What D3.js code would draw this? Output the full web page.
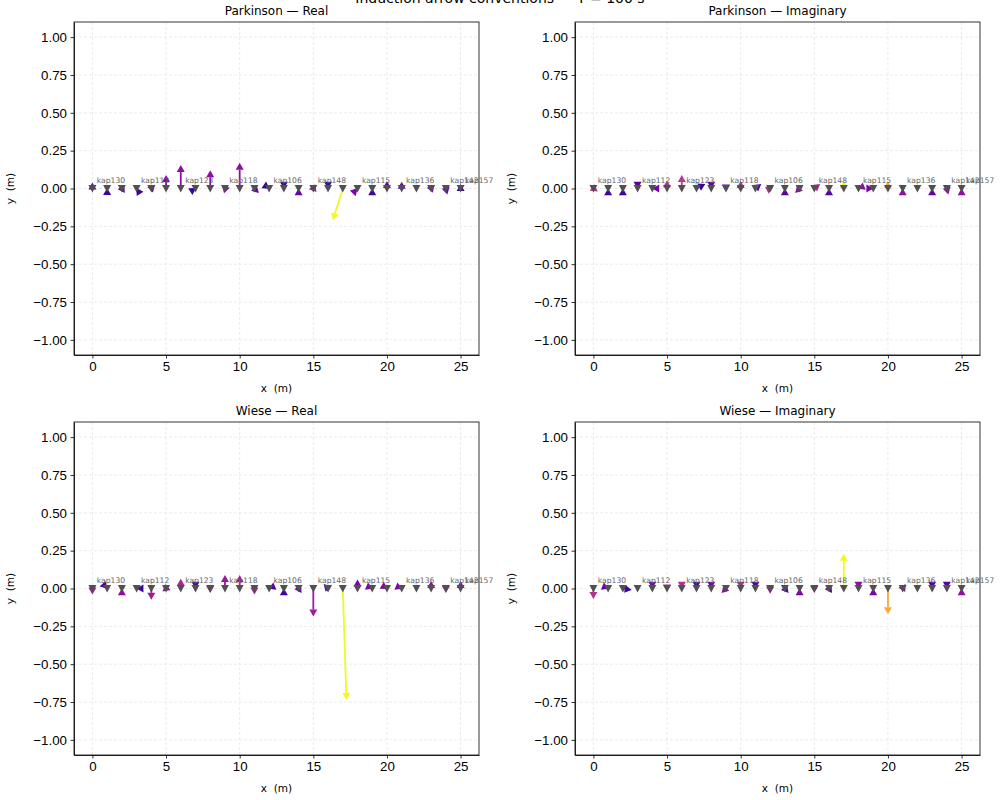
<!DOCTYPE html>
<html>
<head>
<meta charset="utf-8">
<script src="https://cdn.jsdelivr.net/npm/d3@7"></script>
<style>
  body { margin: 0; background: #fff; }
  svg { font-family: 'DejaVu Sans', sans-serif; }
  .grid line { stroke: #e6e6e6; stroke-width: 0.8; stroke-dasharray: 3,2; }
  .axis path, .axis line { stroke: #000; stroke-width: 0.8; }
  .axis text { font-size: 13.3px; fill: #000; }
</style>
</head>
<body>
<div id="chart-area"></div>
<script>
// Stations along the profile
const stationX = [0, 1, 2, 3, 4, 5, 6, 7, 8, 9, 10, 11, 12, 13, 14, 15, 16, 17, 18, 19, 20, 21, 22, 23, 24, 25]
const labelIdx = [0, 3, 6, 9, 12, 15, 18, 21, 24, 25]
const labelNames = ['kap130', 'kap112', 'kap123', 'kap118', 'kap106', 'kap148', 'kap115', 'kap136', 'kap142', 'kap157']

const xTicks = [0, 5, 10, 15, 20, 25]
const yTicks = [-1, -0.75, -0.5, -0.25, 0, 0.25, 0.5, 0.75, 1]

// arrow components (u = along x, v = along y) and colour value (0..1 on plasma)
const parkRealU = [0, 0, 0.2, -0.02, 0.25, 0, 0, 0.05, 0, -0.2, 0, 0.3, 0.03, 0, 0, -0.3, 0, -0.68, 0.01, 0, 0, 0, 0, -0.3, 0.1, 0]
const parkRealV = [0.04, 0.003, -0.03, 0.003, 0.025, 0.09, 0.155, 0.003, 0.12, 0.02, 0.17, -0.03, -0.002, -0.002, 0.002, -0.005, -0.002, -0.21, 0.001, 0.002, 0.05, 0.045, 0, 0.005, -0.04, 0.03]
const parkRealC = [0.2, 0.08, 0.18, 0.08, 0.22, 0.28, 0.3, 0.08, 0.3, 0.25, 0.3, 0.2, 0.06, 0.06, 0.2, 0.35, 0.05, 1, 0.25, 0.1, 0.2, 0.22, 0, 0.3, 0.2, 0.1]

const parkImagU = [0.3, 0, 0, 0, -0.01, 0, 0, 0.6, 0, 0, 0, 0.4, 0.2, 0, -0.3, 0.4, 0, 0, -0.05, 0.01, -0.02, 0, 0, 0, 0.1, 0]
const parkImagV = [-0.02, 0.002, 0.002, -0.002, 0, 0.055, 0.09, 0.03, -0.002, -0.02, 0.05, 0.03, 0.01, 0.002, -0.03, 0.03, 0.002, 0.05, -0.002, 0, 0.05, 0.002, 0, 0.002, -0.04, 0.002]
const parkImagC = [0.42, 0.1, 0.1, 0.15, 0.25, 0.42, 0.45, 0.08, 0.2, 0.25, 0.4, 0.15, 0.4, 0.15, 0.3, 0.4, 0.15, 1, 0.3, 0.25, 0.8, 0.3, 0, 0.2, 0.3, 0.3]

const wieseRealU = [0, 0.02, 0, -0.01, 0, 0.3, 0, 0, 0, 0, 0, 0, -0.05, 0, 0.2, 0, -0.3, 0.25, 0, 0.05, 0.05, 0.05, 0, 0, 0, 0]
const wieseRealV = [-0.04, -0.002, 0.002, 0, -0.075, -0.01, 0.065, -0.002, -0.03, 0.09, 0.09, -0.04, -0.002, 0.002, -0.03, -0.185, 0.03, -0.736, 0.06, -0.002, -0.003, -0.002, 0, 0.05, -0.03, 0.05]
const wieseRealC = [0.35, 0.15, 0.3, 0.1, 0.35, 0.3, 0.38, 0.1, 0.35, 0.33, 0.36, 0.35, 0.15, 0.1, 0.2, 0.35, 0.12, 1, 0.25, 0.25, 0.25, 0.25, 0, 0.3, 0.35, 0.3]

const wieseImagU = [0, 0.05, 0.6, 0, 0, 0, 0, 0, 0, -0.3, 0, 0, 0, 0.25, 0, 0, 0.2, 0, 0, 0, 0, 0.2, 0, 0, 0, 0]
const wieseImagV = [-0.07, -0.002, -0.01, 0, -0.002, -0.02, -0.002, -0.002, -0.002, -0.03, -0.002, -0.002, -0.035, -0.03, 0.002, -0.03, -0.03, 0.23, -0.002, 0.002, -0.17, 0.03, 0, -0.002, -0.002, 0.002]
const wieseImagC = [0.42, 0.2, 0.1, 0, 0.25, 0.42, 0.42, 0.1, 0.25, 0.3, 0.4, 0.15, 0.35, 0.15, 0.25, 0.35, 0.15, 1, 0.3, 0.25, 0.8, 0.3, 0, 0.15, 0.15, 0.3]

const WIDTH = 405
const HEIGHT = 333
const HEAD_LEN = 7
const HEAD_HALF = 4

const svg = d3.select('#chart-area').append('svg')
  .attr('width', 1000)
  .attr('height', 800)

// suptitle, mostly cut off at the top edge
svg.append('text')
  .attr('x', 500)
  .attr('y', 3)
  .attr('text-anchor', 'middle')
  .attr('font-size', '14px')
  .text('Induction arrow conventions — T = 100 s')

const x = d3.scaleLinear().domain([-1.25, 26.25]).range([0, WIDTH])
const y = d3.scaleLinear().domain([-1.1, 1.1]).range([HEIGHT, 0])
const fmt = d => d3.format('.2f')(d).replace('-', '\u2212')

function drawPanel(left, top, title, U, V, C) {
  const g = svg.append('g').attr('transform', `translate(${left}, ${top})`)

  // grid
  g.append('g').attr('class', 'grid')
    .selectAll('line.gx').data(xTicks).enter().append('line')
    .attr('x1', d => x(d)).attr('x2', d => x(d))
    .attr('y1', 0).attr('y2', HEIGHT)
  g.select('.grid')
    .selectAll('line.gy').data(yTicks).enter().append('line')
    .attr('x1', 0).attr('x2', WIDTH)
    .attr('y1', d => y(d)).attr('y2', d => y(d))

  // arrows
  const arrows = g.append('g')
  stationX.forEach((sx, i) => {
    const x0 = x(sx), y0 = y(0)
    const x1 = x(sx + U[i]), y1 = y(V[i])
    const dx = x1 - x0, dy = y1 - y0
    const len = Math.hypot(dx, dy)
    if (len < 1e-6) return
    const ux = dx / len, uy = dy / len
    const col = d3.interpolatePlasma(C[i])
    if (len > HEAD_LEN) {
      arrows.append('line')
        .attr('x1', x0).attr('y1', y0)
        .attr('x2', x1 - ux * HEAD_LEN).attr('y2', y1 - uy * HEAD_LEN)
        .attr('stroke', col).attr('stroke-width', 1.8)
    }
    const bx = x1 - ux * HEAD_LEN, by = y1 - uy * HEAD_LEN
    arrows.append('path')
      .attr('d', `M${x1},${y1} L${bx - uy * HEAD_HALF},${by + ux * HEAD_HALF} L${bx + uy * HEAD_HALF},${by - ux * HEAD_HALF} Z`)
      .attr('fill', col)
  })

  // station markers
  g.append('g').selectAll('path').data(stationX).enter().append('path')
    .attr('transform', d => `translate(${x(d)}, ${y(0)})`)
    .attr('d', 'M-4,-3.5 L4,-3.5 L0,4 Z')
    .attr('fill', '#505050')

  // station names
  g.append('g').selectAll('text').data(labelIdx).enter().append('text')
    .attr('x', d => x(stationX[d] + 0.3))
    .attr('y', y(0.035))
    .attr('font-size', '7.6px')
    .attr('fill', '#666')
    .text((d, k) => labelNames[k])

  // axes
  g.append('g').attr('class', 'x axis')
    .attr('transform', `translate(0, ${HEIGHT})`)
    .call(d3.axisBottom(x).tickValues(xTicks).tickSize(3.5).tickPadding(3.5).tickSizeOuter(0))
  g.append('g').attr('class', 'y axis')
    .call(d3.axisLeft(y).tickValues(yTicks).tickFormat(fmt).tickSize(3.5).tickPadding(3.5).tickSizeOuter(0))
  g.append('rect')
    .attr('width', WIDTH).attr('height', HEIGHT)
    .attr('fill', 'none').attr('stroke', '#000').attr('stroke-width', 0.8)

  // labels
  g.append('text')
    .attr('x', WIDTH / 2).attr('y', -7)
    .attr('text-anchor', 'middle').attr('font-size', '12px')
    .text(title)
  g.append('text')
    .attr('x', WIDTH / 2).attr('y', HEIGHT + 37)
    .attr('text-anchor', 'middle').attr('font-size', '10.5px')
    .attr('xml:space', 'preserve')
    .text('x  (m)')
  g.append('text')
    .attr('transform', 'rotate(-90)')
    .attr('x', -HEIGHT / 2).attr('y', -60)
    .attr('text-anchor', 'middle').attr('font-size', '10.5px')
    .attr('xml:space', 'preserve')
    .text('y  (m)')
}

drawPanel(74, 22, 'Parkinson — Real', parkRealU, parkRealV, parkRealC)
drawPanel(575, 22, 'Parkinson — Imaginary', parkImagU, parkImagV, parkImagC)
drawPanel(74, 422, 'Wiese — Real', wieseRealU, wieseRealV, wieseRealC)
drawPanel(575, 422, 'Wiese — Imaginary', wieseImagU, wieseImagV, wieseImagC)
</script>
</body>
</html>
